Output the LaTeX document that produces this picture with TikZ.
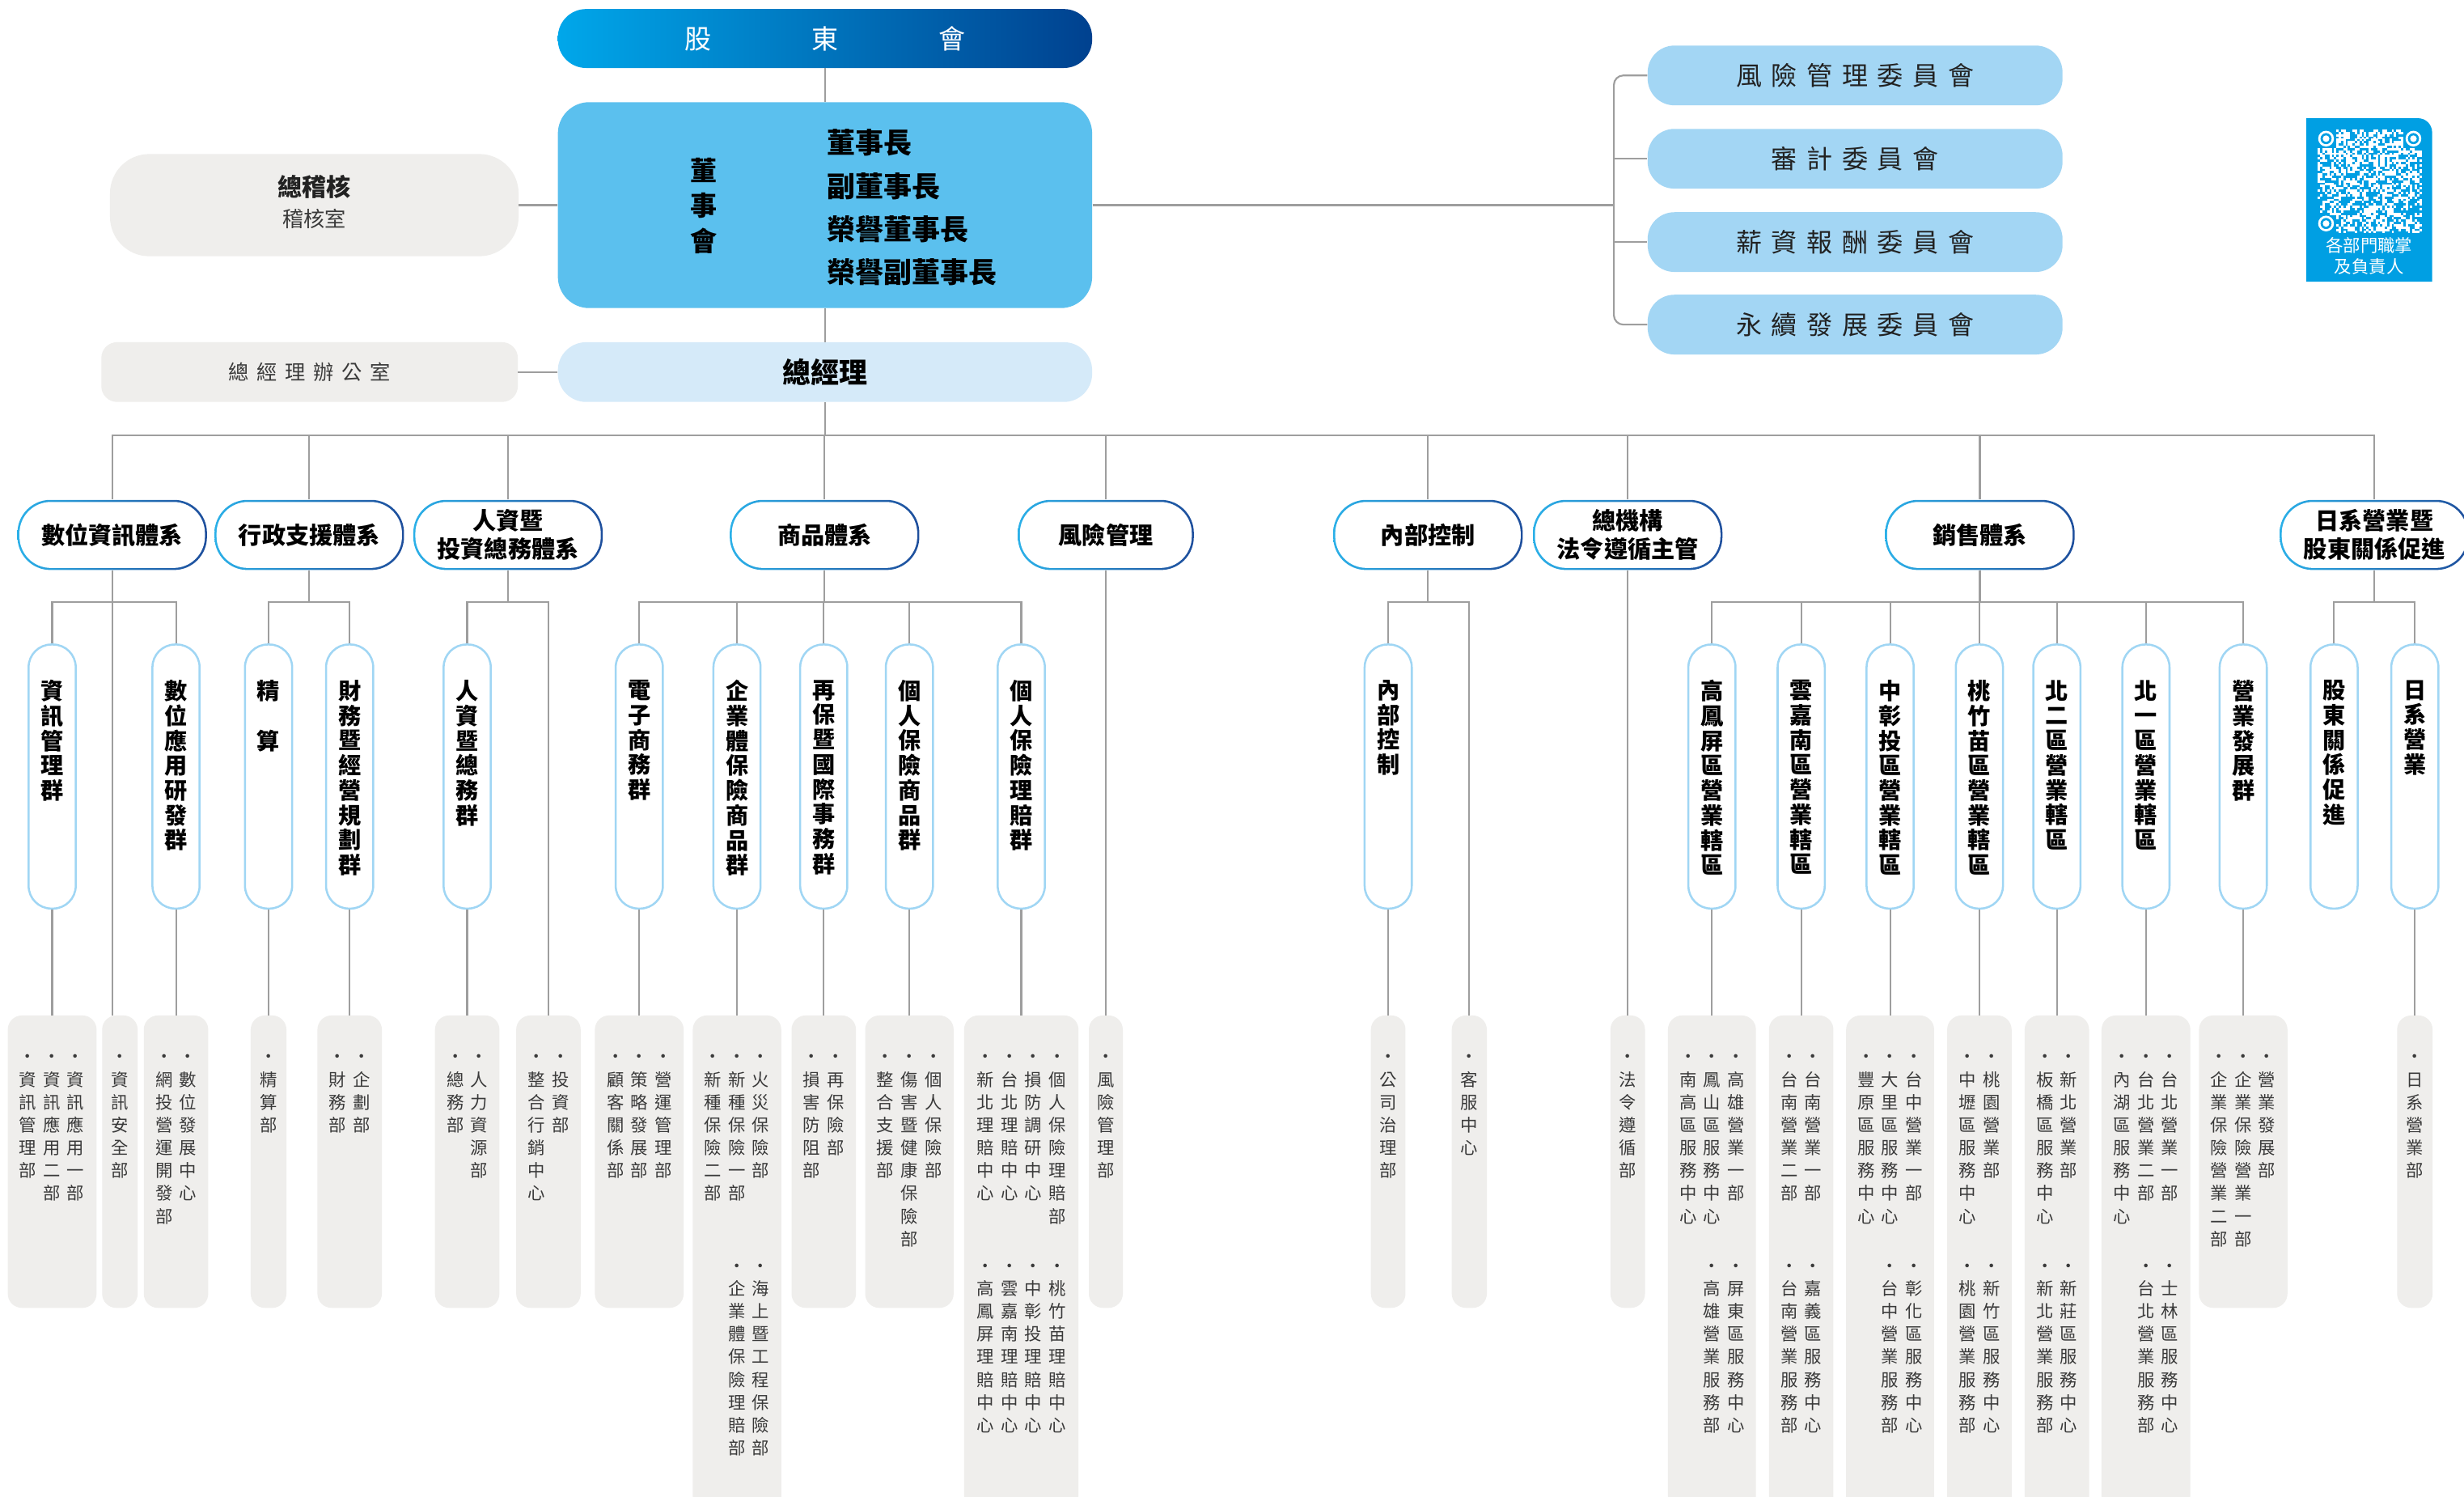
\documentclass[tikz,border=0pt]{standalone}
\usepackage{fontspec}
\setmainfont{Noto Sans CJK TC}
\definecolor{lineg}{HTML}{9E9E9E}
\definecolor{greybox}{HTML}{EFEEEC}
\definecolor{board}{HTML}{5BC0EE}
\definecolor{cmte}{HTML}{A3D6F4}
\definecolor{gmc}{HTML}{D5EAF9}
\definecolor{pillb}{HTML}{A0D6F4}
\definecolor{gradA}{HTML}{00A7EA}
\definecolor{gradB}{HTML}{00418F}
\definecolor{bordA}{HTML}{2BB0E8}
\definecolor{bordB}{HTML}{1E4E9C}
\definecolor{qrblue}{HTML}{009FE3}
\definecolor{txt}{HTML}{3A3A3A}
\definecolor{txtd}{HTML}{222222}
\makeatletter
\newcommand\vcol[1]{%
  \def\vc@out{}%
  \@tfor\vc@c:=#1\do{%
    \ifx\vc@out\@empty
      \edef\vc@out{\noexpand\strut\vc@c}%
    \else
      \edef\vc@out{\unexpanded\expandafter{\vc@out}\noexpand\\\noexpand\strut\vc@c}%
    \fi}%
  \vc@out}
\newcommand\vcolx[1]{\expandafter\vcol\expandafter{#1}}
\newcommand\spread[2]{%
  \def\sp@first{1}%
  \@tfor\sp@c:=#2\do{\ifx\sp@first\@empty\hspace{#1}\fi\def\sp@first{}\sp@c}}
\makeatother
\begin{document}
\begin{tikzpicture}[x=1pt,y=-1pt,
  conn/.style={draw=lineg, line width=1.1pt},
  gbox/.style={rectangle, rounded corners=9, fill=greybox, inner sep=0},
  l2/.style={rectangle, rounded corners=21, minimum width=120.6, minimum height=44.6,
    left color=bordA, right color=bordB, inner sep=0, align=center, text=black,
    font=\bfseries\fontsize{15}{18}\selectfont,
    path picture={\fill[white, rounded corners=20]
      ([xshift=1.3pt,yshift=-1.3pt]path picture bounding box.north west) rectangle
      ([xshift=-1.3pt,yshift=1.3pt]path picture bounding box.south east);}},
  l3/.style={rectangle, rounded corners=14.5, draw=pillb, line width=1.3pt, fill=white,
    minimum width=30, minimum height=168, inner sep=0},
  l3txt/.style={anchor=north, inner sep=0, align=center, text=black,
    font=\bfseries\fontsize{14.5}{15.8}\selectfont},
  l4txt/.style={anchor=north, inner sep=0, align=center, text=txt,
    font=\fontsize{11}{14.5}\selectfont},
  cmtebox/.style={rectangle, rounded corners=17, fill=cmte, minimum width=264, minimum height=38,
    inner sep=0, text=txtd, font=\fontsize{16.5}{20}\selectfont},
  sbox/.style={gbox, minimum height=186},
  lbox/.style={gbox, minimum height=330}
]
\lineskiplimit=-100pt \lineskip=0pt
\useasboundingbox (0,0) rectangle (1568,952);
\fill[white] (0,0) rectangle (1568,952);
\coordinate (bus1) at (0,277);
\coordinate (bus2) at (0,383);
\coordinate (brk) at (1027,0);

% ---------- top ----------
\node[rectangle, rounded corners=18, left color=gradA, right color=gradB, minimum width=340,
  minimum height=37.5, inner sep=0, text=white, font=\fontsize{17}{20}\selectfont]
  (gdh) at (525,24.5) {\spread{64pt}{股東會}};
\node[rectangle, rounded corners=20, fill=board, minimum width=340, minimum height=131, inner sep=0]
  (dsh) at (525,130.5) {};
\node[anchor=north, inner sep=0, align=center, font=\bfseries\fontsize{17}{22.3}\selectfont]
  (dshv) at (448,99.3) {\vcol{董事會}};
\node[anchor=north west, inner sep=0, align=left, font=\bfseries\fontsize{18}{27.5}\selectfont]
  (dshl) at (526,78.2) {\strut 董事長\\\strut 副董事長\\\strut 榮譽董事長\\\strut 榮譽副董事長};
\node[gbox, rounded corners=25, minimum width=260, minimum height=65] (zjh) at (200,130.5) {};
\node[font=\bfseries\fontsize{15.5}{18}\selectfont, text=txtd, inner sep=0] (zjht) at (200,119) {總稽核};
\node[font=\fontsize{13.5}{16}\selectfont, text=txt, inner sep=0] (zjhs) at (200,139) {稽核室};
\node[gbox, rounded corners=10, minimum width=265, minimum height=38, text=txt,
  font=\fontsize{13}{16}\selectfont] (zjb) at (197,236.7) {\spread{5pt}{總經理辦公室}};
\node[rectangle, rounded corners=18, fill=gmc, minimum width=340, minimum height=38, inner sep=0,
  font=\bfseries\fontsize{18}{20}\selectfont] (zjl) at (525,236.7) {總經理};

\draw[conn] (gdh.south) -- (dsh.north);
\draw[conn] (dsh.south) -- (zjl.north);
\draw[conn] (zjh.east) -- (zjh.east -| dsh.west);
\draw[conn] (zjb.east) -- (zjb.east -| zjl.west);

% committees
\node[cmtebox] (c1) at (1180.5,48) {\spread{6pt}{風險管理委員會}};
\node[cmtebox] (c2) at (1180.5,101) {\spread{6pt}{審計委員會}};
\node[cmtebox] (c3) at (1180.5,154) {\spread{6pt}{薪資報酬委員會}};
\node[cmtebox] (c4) at (1180.5,206.5) {\spread{6pt}{永續發展委員會}};
\draw[conn] (dsh.east) -- (dsh.east -| brk);
\draw[conn, rounded corners=6] (c1.west) -- (c1.west -| brk) -- (c4.west -| brk) -- (c4.west);
\draw[conn] (c2.west -| brk) -- (c2.west);
\draw[conn] (c3.west -| brk) -- (c3.west);

% QR block
\fill[qrblue] (1467.6,179.2) -- (1467.6,75.2) -- (1538.7,75.2)
  .. controls (1543.7,75.2) and (1547.7,79.2) .. (1547.7,84.2) -- (1547.7,179.2) -- cycle;
\pgfmathsetseed{4711}
\foreach \i in {0,...,44}{
  \foreach \j in {0,...,44}{
    \pgfmathrandominteger{\rr}{0}{99}
    \pgfmathtruncatemacro\qz{(\i<8)*(\j<8)+(\i>36)*(\j<8)+(\i<8)*(\j>36)}
    \ifnum\qz=0 \ifnum\rr<50
      \fill[white] ({1475+\i*1.467},{82.4+\j*1.467}) rectangle ++(1.5,1.5);
    \fi\fi
  }}
\foreach \cx/\cy in {1480.2/88.2, 1535.8/88.2, 1480.2/142.2}{
  \draw[white, line width=1.4pt] (\cx,\cy) circle (4.3pt);
  \fill[white] (\cx,\cy) circle (2.1pt);
}
\node[inner sep=0, align=center, text=white, font=\fontsize{11}{13.5}\selectfont] (qrt)
  at (1507.6,163) {各部門職掌\\及負責人};

% ---------- level 2 ----------
\node[l2] (l2a) at (71.4,340.3) {數位資訊體系};
\node[l2] (l2b) at (196.8,340.3) {行政支援體系};
\node[l2] (l2c) at (323.3,340.3) {人資暨\\投資總務體系};
\node[l2] (l2d) at (524.7,340.3) {商品體系};
\node[l2, minimum width=112] (l2e) at (703.7,340.3) {風險管理};
\node[l2] (l2f) at (908.7,340.3) {內部控制};
\node[l2] (l2g) at (1035.8,340.3) {總機構\\法令遵循主管};
\node[l2] (l2h) at (1259.9,340.3) {銷售體系};
\node[l2] (l2i) at (1511,340.3) {日系營業暨\\股東關係促進};
\foreach \n in {l2a,l2b,l2c,l2d,l2e,l2f,l2g,l2h,l2i}{
  \draw[conn] (zjl.south) |- (\n.north |- bus1) -- (\n.north);
}

% ---------- level 3 pills ----------
\foreach \nm/\px/\tx in {
  p1/33.2/資訊管理群, p2/112/數位應用研發群, p3/170.9/精　算, p4/222.5/財務暨經營規劃群,
  p5/297.3/人資暨總務群, p6/406.8/電子商務群, p7/469/企業體保險商品群, p8/524.2/再保暨國際事務群,
  p9/578.7/個人保險商品群, p10/649.9/個人保險理賠群, p11/883.4/內部控制,
  p12/1089.4/高鳳屏區營業轄區, p13/1146.2/雲嘉南區營業轄區, p14/1202.8/中彰投區營業轄區,
  p15/1259.6/桃竹苗區營業轄區, p16/1308.9/北二區營業轄區, p17/1365.6/北一區營業轄區,
  p18/1427.5/營業發展群, p19/1485.3/股東關係促進, p20/1536.7/日系營業}{
  \node[l3] (\nm) at (\px,494) {};
  \node[l3txt] (\nm t) at (\px,432.5) {\vcolx{\tx}};
}

% ---------- level 4 boxes ----------
\node[sbox, minimum width=56.5] (bA) at (33.2,739) {};
\node[sbox, minimum width=22.6] (bB) at (76.3,739) {};
\node[sbox, minimum width=41] (bC) at (112,739) {};
\node[sbox, minimum width=22.7] (bD) at (170.9,739) {};
\node[sbox, minimum width=41] (bE) at (222.5,739) {};
\node[sbox, minimum width=41] (bF) at (297.3,739) {};
\node[sbox, minimum width=41] (bG) at (349,739) {};
\node[sbox, minimum width=56.5] (bH) at (406.8,739) {};
\node[lbox, minimum width=56.3] (bI) at (469,811) {};
\node[sbox, minimum width=41] (bJ) at (524.2,739) {};
\node[sbox, minimum width=56.3] (bK) at (578.7,739) {};
\node[lbox, minimum width=72.8] (bL) at (649.9,811) {};
\node[sbox, minimum width=21.6] (bM) at (703.7,739) {};
\node[sbox, minimum width=22] (bN) at (883.4,739) {};
\node[sbox, minimum width=22.3] (bO) at (935,739) {};
\node[sbox, minimum width=22] (bP) at (1035.8,739) {};
\node[lbox, minimum width=56] (bQ) at (1089.4,811) {};
\node[lbox, minimum width=41] (bR) at (1146.2,811) {};
\node[lbox, minimum width=56] (bS) at (1202.8,811) {};
\node[lbox, minimum width=41] (bT) at (1259.6,811) {};
\node[lbox, minimum width=41] (bU) at (1308.9,811) {};
\node[lbox, minimum width=56.5] (bV) at (1365.6,811) {};
\node[sbox, minimum width=56.3] (bW) at (1427.5,739) {};
\node[sbox, minimum width=22.6] (bX) at (1536.7,739) {};

% ---------- level 2 -> level 3 connectors ----------
\foreach \pa/\ch in {l2a/p1, l2a/p2, l2b/p3, l2b/p4, l2c/p5, l2c/bG,
  l2d/p6, l2d/p7, l2d/p8, l2d/p9, l2d/p10, l2f/p11, l2f/bO,
  l2h/p12, l2h/p13, l2h/p14, l2h/p15, l2h/p16, l2h/p17, l2h/p18, l2i/p19, l2i/p20}{
  \draw[conn] (\pa.south) |- (\ch.north |- bus2) -- (\ch.north);
}
\draw[conn] (l2a.south) -- (l2a.south |- bB.north);
\draw[conn] (l2e.south) -- (l2e.south |- bM.north);
\draw[conn] (l2g.south) -- (l2g.south |- bP.north);
% ---------- level 3 -> level 4 connectors ----------
\foreach \pa/\ch in {p1/bA, p2/bC, p3/bD, p4/bE, p5/bF, p6/bH, p7/bI, p8/bJ, p9/bK, p10/bL,
  p11/bN, p12/bQ, p13/bR, p14/bS, p15/bT, p16/bU, p17/bV, p18/bW, p20/bX}{
  \draw[conn] (\pa.south) -- (\pa.south |- \ch.north);
}

% ---------- level 4 texts (columns, right to left) ----------
\foreach \nm/\cx/\cy/\tx in {
  tA1/48.1/666/•資訊應用一部, tA2/32.9/666/•資訊應用二部, tA3/17.7/666/•資訊管理部,
  tB1/76.3/666/•資訊安全部,
  tC1/119.6/666/•數位發展中心, tC2/104.4/666/•網投營運開發部,
  tD1/170.9/666/•精算部,
  tE1/230.1/666/•企劃部, tE2/214.9/666/•財務部,
  tF1/304.9/666/•人力資源部, tF2/289.7/666/•總務部,
  tG1/356.6/666/•投資部, tG2/341.4/666/•整合行銷中心,
  tH1/422/666/•營運管理部, tH2/406.8/666/•策略發展部, tH3/391.6/666/•顧客關係部,
  tI1/484.2/666/•火災保險部, tI2/469/666/•新種保險一部, tI3/453.8/666/•新種保險二部,
  tI4/484.2/799/•海上暨工程保險部, tI5/469/799/•企業體保險理賠部,
  tJ1/531.8/666/•再保險部, tJ2/516.6/666/•損害防阻部,
  tK1/593.9/666/•個人保險部, tK2/578.7/666/•傷害暨健康保險部, tK3/563.5/666/•整合支援部,
  tL1/672.7/666/•個人保險理賠部, tL2/657.5/666/•損防調研中心, tL3/642.3/666/•台北理賠中心, tL4/627.1/666/•新北理賠中心,
  tL5/672.7/799/•桃竹苗理賠中心, tL6/657.5/799/•中彰投理賠中心, tL7/642.3/799/•雲嘉南理賠中心, tL8/627.1/799/•高鳳屏理賠中心,
  tM1/703.7/666/•風險管理部,
  tN1/883.4/666/•公司治理部,
  tO1/935/666/•客服中心,
  tP1/1035.8/666/•法令遵循部,
  tQ1/1104.6/666/•高雄營業一部, tQ2/1089.4/666/•鳳山區服務中心, tQ3/1074.2/666/•南高區服務中心,
  tQ4/1104.6/799/•屏東區服務中心, tQ5/1089.4/799/•高雄營業服務部,
  tR1/1153.8/666/•台南營業一部, tR2/1138.6/666/•台南營業二部,
  tR3/1153.8/799/•嘉義區服務中心, tR4/1138.6/799/•台南營業服務部,
  tS1/1218/666/•台中營業一部, tS2/1202.8/666/•大里區服務中心, tS3/1187.6/666/•豐原區服務中心,
  tS4/1218/799/•彰化區服務中心, tS5/1202.8/799/•台中營業服務部,
  tT1/1267.2/666/•桃園營業部, tT2/1252/666/•中壢區服務中心,
  tT3/1267.2/799/•新竹區服務中心, tT4/1252/799/•桃園營業服務部,
  tU1/1316.5/666/•新北營業部, tU2/1301.3/666/•板橋區服務中心,
  tU3/1316.5/799/•新莊區服務中心, tU4/1301.3/799/•新北營業服務部,
  tV1/1380.8/666/•台北營業一部, tV2/1365.6/666/•台北營業二部, tV3/1350.4/666/•內湖區服務中心,
  tV4/1380.8/799/•士林區服務中心, tV5/1365.6/799/•台北營業服務部,
  tW1/1442.7/666/•營業發展部, tW2/1427.5/666/•企業保險營業一部, tW3/1412.3/666/•企業保險營業二部,
  tX1/1536.7/666/•日系營業部}{
  \node[l4txt] (\nm) at (\cx,\cy) {\vcolx{\tx}};
}
\end{tikzpicture}
\end{document}
